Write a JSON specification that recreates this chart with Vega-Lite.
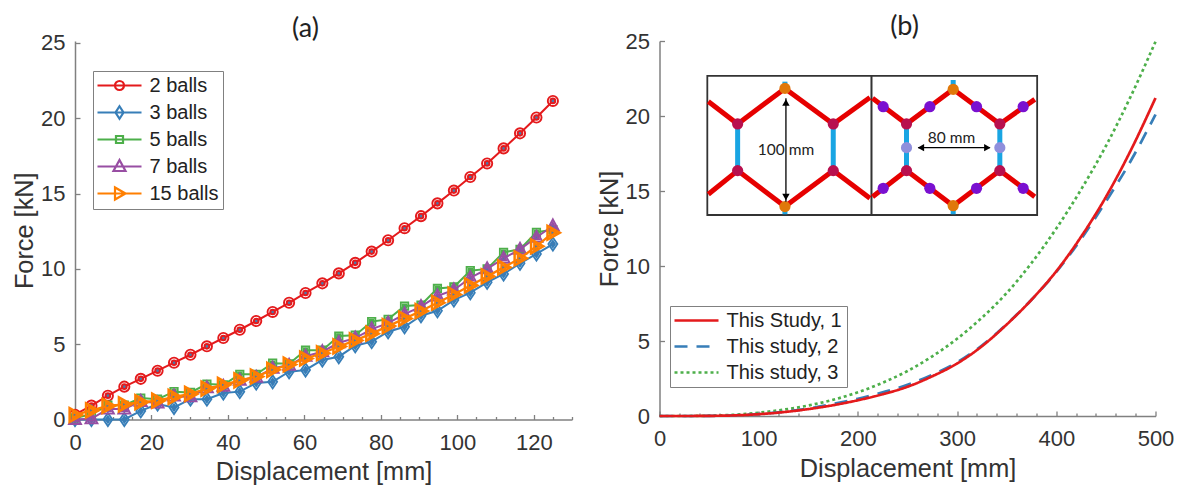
{"$schema":"https://vega.github.io/schema/vega-lite/v6.json","background":"white","padding":{"left":12,"top":13,"right":0,"bottom":0},"spacing":23.5,"resolve":{"scale":{"stroke":"independent","strokeDash":"independent","shape":"independent","fill":"independent"},"legend":{"stroke":"independent","strokeDash":"independent","shape":"independent","fill":"independent"}},"config":{"view":{"stroke":null},"font":"Liberation Sans","axis":{"domainColor":"#808080","domainWidth":1.5,"tickColor":"#808080","tickWidth":1.3,"labelColor":"#333333","titleColor":"#333333","labelFont":"Liberation Sans","titleFont":"Liberation Sans","labelFontSize":22,"titleFontSize":25.3,"titleFontWeight":"normal","grid":false,"labelBound":false,"labelFlush":false},"legend":{"labelFont":"Liberation Sans","labelColor":"#222222","labelFontSize":20,"strokeColor":"#808080","fillColor":"white","cornerRadius":0,"labelLimit":300,"symbolStrokeWidth":2.2,"rowPadding":6,"columnPadding":5,"padding":4.5,"symbolSize":100,"labelOffset":32},"title":{"font":"Lato","fontSize":27,"fontWeight":"normal","color":"#222222"}},
"datasets":{"left":[
{"d":0,"s2":0.32,"s3":0,"s5":0.1,"s7":0,"s15":0.3},{"d":4.3,"s2":0.92,"s3":0,"s5":0.35,"s7":0.05,"s15":0.6},{"d":8.6,"s2":1.58,"s3":0,"s5":0.95,"s7":0.7,"s15":0.9},{"d":12.9,"s2":2.18,"s3":0,"s5":0.95,"s7":0.7,"s15":1.0},{"d":17.2,"s2":2.7,"s3":0.57,"s5":1.42,"s7":1.2,"s15":1.15},{"d":21.6,"s2":3.24,"s3":1.03,"s5":1.35,"s7":1.1,"s15":1.25},{"d":25.9,"s2":3.77,"s3":0.8,"s5":1.85,"s7":1.55,"s15":1.5},{"d":30.2,"s2":4.3,"s3":1.35,"s5":1.8,"s7":1.5,"s15":1.7},{"d":34.5,"s2":4.86,"s3":1.35,"s5":2.35,"s7":2.1,"s15":2.05},{"d":38.8,"s2":5.41,"s3":1.76,"s5":2.3,"s7":2.2,"s15":2.3},{"d":43.1,"s2":5.96,"s3":1.85,"s5":3.0,"s7":2.6,"s15":2.6},{"d":47.4,"s2":6.54,"s3":2.42,"s5":3.0,"s7":2.8,"s15":2.85},{"d":51.7,"s2":7.14,"s3":2.5,"s5":3.74,"s7":3.4,"s15":3.3},{"d":56,"s2":7.75,"s3":3.17,"s5":3.7,"s7":3.6,"s15":3.65},{"d":60.3,"s2":8.4,"s3":3.29,"s5":4.6,"s7":4.2,"s15":4.05},{"d":64.7,"s2":9.04,"s3":3.95,"s5":4.6,"s7":4.5,"s15":4.4},{"d":69,"s2":9.7,"s3":4.17,"s5":5.54,"s7":5.1,"s15":4.85},{"d":73.3,"s2":10.4,"s3":4.9,"s5":5.6,"s7":5.4,"s15":5.25},{"d":77.6,"s2":11.15,"s3":5.17,"s5":6.5,"s7":6.0,"s15":5.7},{"d":81.9,"s2":11.9,"s3":5.83,"s5":6.65,"s7":6.4,"s15":6.2},{"d":86.2,"s2":12.7,"s3":6.16,"s5":7.53,"s7":7.0,"s15":6.7},{"d":90.5,"s2":13.5,"s3":6.89,"s5":7.6,"s7":7.5,"s15":7.2},{"d":94.8,"s2":14.35,"s3":7.22,"s5":8.7,"s7":8.2,"s15":7.75},{"d":99.1,"s2":15.2,"s3":7.93,"s5":8.8,"s7":8.6,"s15":8.3},{"d":103.4,"s2":16.1,"s3":8.42,"s5":9.88,"s7":9.4,"s15":8.9},{"d":107.8,"s2":17.0,"s3":9.11,"s5":10.0,"s7":10.0,"s15":9.5},{"d":112.1,"s2":18.0,"s3":9.66,"s5":11.1,"s7":10.7,"s15":10.1},{"d":116.4,"s2":19.0,"s3":10.37,"s5":11.3,"s7":11.3,"s15":10.7},{"d":120.7,"s2":20.05,"s3":10.99,"s5":12.43,"s7":12.1,"s15":11.5},{"d":125,"s2":21.15,"s3":11.65,"s5":12.6,"s7":12.85,"s15":12.4}],
"right":[
{"x":0,"a":0,"b":0,"c":0},{"x":25,"a":0,"b":0,"c":0},{"x":50,"a":0.01,"b":0.01,"c":0.02},{"x":75,"a":0.04,"b":0.05,"c":0.08},{"x":100,"a":0.12,"b":0.13,"c":0.22},{"x":125,"a":0.26,"b":0.28,"c":0.42},{"x":150,"a":0.46,"b":0.5,"c":0.7},{"x":175,"a":0.72,"b":0.8,"c":1.08},{"x":200,"a":1.05,"b":1.15,"c":1.58},{"x":225,"a":1.45,"b":1.58,"c":2.22},{"x":250,"a":1.95,"b":2.08,"c":3.0},{"x":275,"a":2.65,"b":2.75,"c":3.98},{"x":300,"a":3.5,"b":3.58,"c":5.15},{"x":325,"a":4.65,"b":4.7,"c":6.55},{"x":350,"a":6.1,"b":6.12,"c":8.2},{"x":375,"a":7.75,"b":7.75,"c":10.2},{"x":400,"a":9.65,"b":9.6,"c":12.5},{"x":425,"a":11.95,"b":11.8,"c":15.1},{"x":450,"a":14.6,"b":14.3,"c":18.0},{"x":475,"a":17.7,"b":17.0,"c":21.3},{"x":500,"a":21.2,"b":20.1,"c":24.95}],
"ties":[{"x":78.76,"y":19.47,"x2":126.45,"y2":21.84},{"x":126.45,"y":21.84,"x2":175.15,"y2":19.47},{"x":78.76,"y":19.47,"x2":49.2,"y2":20.96},{"x":175.15,"y":19.47,"x2":212.1,"y2":21.24},{"x":78.76,"y":16.36,"x2":126.45,"y2":13.96},{"x":126.45,"y":13.96,"x2":175.15,"y2":16.36},{"x":78.76,"y":16.36,"x2":49.2,"y2":14.78},{"x":175.15,"y":16.36,"x2":212.1,"y2":14.51},{"x":249,"y":19.47,"x2":296.05,"y2":21.78},{"x":296.05,"y":21.78,"x2":343.07,"y2":19.47},{"x":249,"y":19.47,"x2":214.8,"y2":21.18},{"x":343.07,"y":19.47,"x2":378.3,"y2":21.11},{"x":249,"y":16.36,"x2":296.05,"y2":14.02},{"x":296.05,"y":14.02,"x2":343.07,"y2":16.36},{"x":249,"y":16.36,"x2":214.8,"y2":14.62},{"x":343.07,"y":16.36,"x2":378.3,"y2":14.62}],
"posts":[{"x":78.76,"y":19.47,"x2":78.76,"y2":16.36},{"x":175.15,"y":19.47,"x2":175.15,"y2":16.36},{"x":249,"y":19.47,"x2":249,"y2":16.36},{"x":343.07,"y":19.47,"x2":343.07,"y2":16.36},{"x":126.45,"y":21.84,"x2":126.45,"y2":22.29},{"x":126.45,"y":13.96,"x2":126.45,"y2":13.45},{"x":296.05,"y":21.78,"x2":296.05,"y2":22.4},{"x":296.05,"y":14.02,"x2":296.05,"y2":13.45}],
"nodes":[{"x":126.45,"y":21.84,"k":"orange"},{"x":126.45,"y":13.96,"k":"orange"},{"x":296.05,"y":21.78,"k":"orange"},{"x":296.05,"y":14.02,"k":"orange"},{"x":78.76,"y":19.47,"k":"crimson"},{"x":175.15,"y":19.47,"k":"crimson"},{"x":78.76,"y":16.36,"k":"crimson"},{"x":175.15,"y":16.36,"k":"crimson"},{"x":249,"y":19.47,"k":"crimson"},{"x":343.07,"y":19.47,"k":"crimson"},{"x":249,"y":16.36,"k":"crimson"},{"x":343.07,"y":16.36,"k":"crimson"},{"x":249,"y":17.89,"k":"lavender"},{"x":343.07,"y":17.89,"k":"lavender"},{"x":225.5,"y":20.62,"k":"violet"},{"x":272.5,"y":20.62,"k":"violet"},{"x":319.6,"y":20.62,"k":"violet"},{"x":366.6,"y":20.62,"k":"violet"},{"x":225.5,"y":15.18,"k":"violet"},{"x":272.5,"y":15.18,"k":"violet"},{"x":319.6,"y":15.18,"k":"violet"},{"x":366.6,"y":15.18,"k":"violet"}],
"arrows":[{"x":127.45,"y":21.18,"x2":127.45,"y2":14.29},{"x":260.8,"y":17.89,"x2":333,"y2":17.89}],
"heads":[{"x":127.45,"y":20.9,"s":"triangle-up"},{"x":127.45,"y":14.6,"s":"triangle-down"},{"x":263.5,"y":17.89,"s":"triangle-left"},{"x":330.5,"y":17.89,"s":"triangle-right"}],
"notes":[{"x":127.45,"y":17.73,"t":"100 mm"},{"x":294.4,"y":18.51,"t":"80 mm"}]},
"hconcat":[
{"title":{"text":"(a)","dx":-18,"offset":-11},"width":497,"height":378.5,
"transform":[{"fold":["s2","s3","s5","s7","s15"],"as":["k","f"]},{"calculate":"replace(datum.k,'s','')+' balls'","as":"series"}],
"data":{"name":"left"},
"encoding":{"x":{"field":"d","type":"quantitative","scale":{"domain":[0,130],"nice":false},"axis":{"title":"Displacement [mm]","values":[0,5,10,15,20,25,30,35,40,45,50,55,60,65,70,75,80,85,90,95,100,105,110,115,120,125,130],"labelExpr":"datum.value%20==0?datum.label:''","labelOverlap":false,"tickSize":{"expr":"datum.value%20==0?-5:-3"},"labelPadding":17.5,"titlePadding":4.5}},
"y":{"field":"f","type":"quantitative","scale":{"domain":[0,25.13],"nice":false},"axis":{"title":"Force [kN]","values":[0,5,10,15,20,25],"tickSize":-5,"labelPadding":15,"titlePadding":3}}},
"resolve":{"scale":{"shape":"independent","stroke":"independent"}},
"layer":[
{"encoding":{"stroke":{"field":"series","type":"nominal","scale":{"domain":["2 balls","3 balls","5 balls","7 balls","15 balls"],"range":["#e41a1c","#377eb8","#4daf4a","#984ea3","#ff7f00"]},"legend":null},
"shape":{"field":"series","type":"nominal","scale":{"domain":["2 balls","3 balls","5 balls","7 balls","15 balls"],"range":["M.85,0A.85,.85,0,1,1,-.85,0A.85,.85,0,1,1,.85,0Z","M0,-1.1L.75,0L0,1.1L-.75,0Z","M-.62,-.62L.62,-.62L.62,.62L-.62,.62Z","M0,-1.1L1,.75L-1,.75Z","M1.1,0L-.85,-1.1L-.85,1.1Z"]},"legend":null}},
"layer":[
{"transform":[{"filter":"datum.k=='s2'"}],"layer":[{"mark":{"type":"line","strokeWidth":2}},{"mark":{"type":"point","size":144,"fill":"transparent","fillOpacity":0,"strokeWidth":1.9,"opacity":1}}]},
{"transform":[{"filter":"datum.k=='s3'"}],"layer":[{"mark":{"type":"line","strokeWidth":2}},{"mark":{"type":"point","size":144,"fill":"transparent","fillOpacity":0,"strokeWidth":1.8,"opacity":1}}]},
{"transform":[{"filter":"datum.k=='s5'"}],"layer":[{"mark":{"type":"line","strokeWidth":2}},{"mark":{"type":"point","size":144,"fill":"transparent","fillOpacity":0,"strokeWidth":1.8,"opacity":1}}]},
{"transform":[{"filter":"datum.k=='s7'"}],"layer":[{"mark":{"type":"line","strokeWidth":2}},{"mark":{"type":"point","size":144,"fill":"transparent","fillOpacity":0,"strokeWidth":1.9,"opacity":1}}]},
{"transform":[{"filter":"datum.k=='s15'"}],"layer":[{"mark":{"type":"line","strokeWidth":2.3}},{"mark":{"type":"point","size":160,"fill":"transparent","fillOpacity":0,"strokeWidth":2.5,"opacity":1}}]}
]},
{"transform":[{"filter":"false"}],"mark":{"type":"point","size":100,"fill":"transparent","opacity":0},
"encoding":{"stroke":{"field":"series","type":"nominal","scale":{"domain":["2 balls","3 balls","5 balls","7 balls","15 balls"],"range":["#e41a1c","#377eb8","#4daf4a","#984ea3","#ff7f00"]},"legend":{"title":null,"orient":"none","legendX":18,"legendY":30,"symbolOpacity":1,"symbolFillColor":"transparent"}},
"shape":{"field":"series","type":"nominal","scale":{"domain":["2 balls","3 balls","5 balls","7 balls","15 balls"],"range":["M-2,0L6.8,0M3.3,0A.9,.9,0,1,1,1.5,0A.9,.9,0,1,1,3.3,0Z","M-2,0L6.8,0M2.4,-1.25L3.2,0L2.4,1.25L1.6,0Z","M-2,0L6.8,0M1.7,-.7L3.1,-.7L3.1,.7L1.7,.7Z","M-2,0L6.8,0M2.4,-1.3L3.6,.9L1.2,.9Z","M-2,0L6.8,0M3.6,0L1.5,-1.2L1.5,1.2Z"]},"legend":{"title":null,"orient":"none","legendX":18,"legendY":30,"symbolOpacity":1,"symbolFillColor":"transparent"}}}}
]},
{"title":{"text":"(b)","dx":-3,"offset":-11},"width":496,"height":375,
"encoding":{"x":{"field":"x","type":"quantitative","scale":{"domain":[0,500],"nice":false},"axis":{"title":"Displacement [mm]","values":[0,20,40,60,80,100,120,140,160,180,200,220,240,260,280,300,320,340,360,380,400,420,440,460,480,500],"labelExpr":"datum.value%100==0?datum.label:''","labelOverlap":false,"tickSize":{"expr":"datum.value%100==0?-5:-3"},"labelPadding":17.5,"titlePadding":4.5}},
"y":{"field":"y","type":"quantitative","scale":{"domain":[0,25],"nice":false},"axis":{"title":"Force [kN]","values":[0,5,10,15,20,25],"tickSize":-5,"labelPadding":15,"titlePadding":3}}},
"layer":[
{"data":{"name":"right"},"transform":[{"fold":["c","b","a"],"as":["k","y"]},{"calculate":"{a:'This Study, 1',b:'This study, 2',c:'This study, 3'}[datum.k]","as":"series"}],
"mark":{"type":"line","strokeWidth":2.7,"interpolate":"monotone"},
"encoding":{
"stroke":{"field":"series","type":"nominal","scale":{"domain":["This Study, 1","This study, 2","This study, 3"],"range":["#e41a1c","#377eb8","#4daf4a"]},"legend":{"title":null,"orient":"none","legendX":10.5,"legendY":265,"symbolType":"M-2,0L6.8,0","symbolStrokeWidth":2.7}},
"strokeDash":{"field":"series","type":"nominal","scale":{"domain":["This Study, 1","This study, 2","This study, 3"],"range":[[1,0],[13,9],[3,3]]},"legend":{"title":null,"orient":"none","legendX":10.5,"legendY":265,"symbolType":"M-2,0L6.8,0","symbolStrokeWidth":2.7}}}},
{"data":{"values":[{"x":48.2,"x2":213.8,"y":22.67,"y2":13.4},{"x":213.8,"x2":380.7,"y":22.67,"y2":13.4}]},"mark":{"type":"rect","fill":"white","stroke":"#333333","strokeWidth":1.8},"encoding":{"x2":{"field":"x2"},"y2":{"field":"y2"}}},
{"data":{"name":"posts"},"mark":{"type":"rule","stroke":"#19a5e3","strokeWidth":5},"encoding":{"x2":{"field":"x2"},"y2":{"field":"y2"}}},
{"data":{"name":"ties"},"mark":{"type":"rule","stroke":"#e60000","strokeWidth":5},"encoding":{"x2":{"field":"x2"},"y2":{"field":"y2"}}},
{"data":{"name":"nodes"},"mark":{"type":"circle","size":125,"opacity":1},"encoding":{"fill":{"field":"k","type":"nominal","scale":{"domain":["orange","crimson","lavender","violet"],"range":["#e0780a","#b8104e","#8f8fdc","#7a10d0"]},"legend":null}}},
{"data":{"name":"arrows"},"mark":{"type":"rule","stroke":"black","strokeWidth":1.3},"encoding":{"x2":{"field":"x2"},"y2":{"field":"y2"}}},
{"data":{"name":"heads"},"mark":{"type":"point","filled":true,"fill":"black","size":55,"opacity":1},"encoding":{"shape":{"field":"s","type":"nominal","scale":null}}},
{"data":{"name":"notes"},"mark":{"type":"text","font":"Lato","fontSize":15.5,"color":"#222222","baseline":"middle","align":"center"},"encoding":{"text":{"field":"t"}}}
]}
]}
